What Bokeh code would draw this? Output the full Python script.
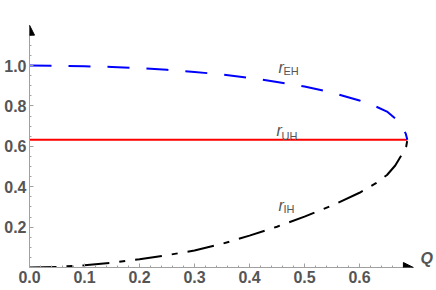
from bokeh.plotting import figure
from bokeh.models import FixedTicker, PrintfTickFormatter, Arrow, NormalHead, Label, Range1d
from bokeh.embed import file_html
from bokeh.resources import INLINE

# ---- data ----
q_eh = [0, 0.05, 0.1, 0.15, 0.2, 0.25, 0.3, 0.35, 0.4, 0.45, 0.5, 0.55, 0.6, 0.63, 0.65, 0.665, 0.677, 0.684, 0.687]
r_eh = [1.0, 0.999, 0.996, 0.993, 0.987, 0.979, 0.968, 0.956, 0.939, 0.919, 0.896, 0.866, 0.827, 0.797, 0.772, 0.738, 0.70, 0.663, 0.632]

q_ih = [0, 0.05, 0.1, 0.15, 0.2, 0.25, 0.3, 0.35, 0.4, 0.45, 0.5, 0.55, 0.6, 0.63, 0.65, 0.665, 0.678, 0.685, 0.687]
r_ih = [0, 0.003, 0.011, 0.024, 0.041, 0.061, 0.084, 0.117, 0.158, 0.202, 0.252, 0.307, 0.37, 0.418, 0.458, 0.505, 0.564, 0.60, 0.632]

q_uh = [0, 0.687]
r_uh = [0.632, 0.632]

x_ticks = [0.0, 0.1, 0.2, 0.3, 0.4, 0.5, 0.6]
y_ticks = [0.2, 0.4, 0.6, 0.8, 1.0]
x_minor = [round(0.02 * i, 2) for i in range(35)]
y_minor = [round(0.05 * i, 2) for i in range(24)]
x_axis_end = 0.698
y_axis_end = 1.2

labels = [  # (name, subscript, Q, r of r-baseline, r of subscript baseline)
    ("r", "EH", 0.4527, 0.99, 0.972),
    ("r", "UH", 0.4490, 0.678, 0.653),
    ("r", "IH", 0.4527, 0.307, 0.292),
]

TXT = "#555555"
AX = "#a0a0a0"

p = figure(width=436, height=290, x_range=Range1d(0, 0.74), y_range=Range1d(0, 1.322),
           output_backend="svg", toolbar_location=None, min_border=0,
           min_border_left=29, min_border_right=0, min_border_top=0, min_border_bottom=23)
p.grid.visible = False
p.outline_line_color = None
p.background_fill_color = "white"
p.border_fill_color = "white"

for ax, ticks, minor, end in ((p.xaxis[0], x_ticks, x_minor, x_axis_end),
                              (p.yaxis[0], y_ticks, y_minor, y_axis_end)):
    ax.ticker = FixedTicker(ticks=ticks, minor_ticks=minor)
    ax.formatter = PrintfTickFormatter(format="%.1f")
    ax.bounds = (0, end)
    ax.axis_line_color = AX
    ax.major_tick_line_color = AX
    ax.minor_tick_line_color = AX
    ax.major_tick_in = 4
    ax.major_tick_out = 0
    ax.minor_tick_in = 2
    ax.minor_tick_out = 0
    ax.axis_label_standoff = 0
    ax.major_label_text_font = "Liberation Sans"
    ax.major_label_text_font_style = "bold"
    ax.major_label_text_font_size = "16px"
    ax.major_label_text_color = TXT
    ax.major_label_standoff = 3

p.line(q_uh, r_uh, line_color="#ff0000", line_width=2)
p.line(q_eh, r_eh, line_color="#0000ff", line_width=2, line_dash="22 17")
p.line(q_ih, r_ih, line_color="black", line_width=2, line_dash="27 10 6 10")

p.add_layout(Arrow(end=NormalHead(size=10, fill_color="black", line_color="black"),
                   x_start=0.68, y_start=0, x_end=x_axis_end, y_end=0, line_color=None))
p.add_layout(Arrow(end=NormalHead(size=10, fill_color="black", line_color="black"),
                   x_start=0, y_start=1.17, x_end=0, y_end=y_axis_end, line_color=None))

p.add_layout(Label(x=x_axis_end, y=0, x_offset=7, y_offset=1, text="Q", text_baseline="bottom",
                   text_font="Liberation Sans", text_font_style="bold italic",
                   text_font_size="16px", text_color=TXT))

for name, sub, q, r0, r1 in labels:
    p.add_layout(Label(x=q, y=r0, text=name, text_baseline="alphabetic",
                       text_font="Liberation Sans", text_font_style="italic",
                       text_font_size="16px", text_color=TXT))
    p.add_layout(Label(x=q, y=r1, x_offset=5, text=sub, text_baseline="alphabetic",
                       text_font="Liberation Sans", text_font_size="11px", text_color=TXT))

open("out.html", "w").write(file_html(p, INLINE))
